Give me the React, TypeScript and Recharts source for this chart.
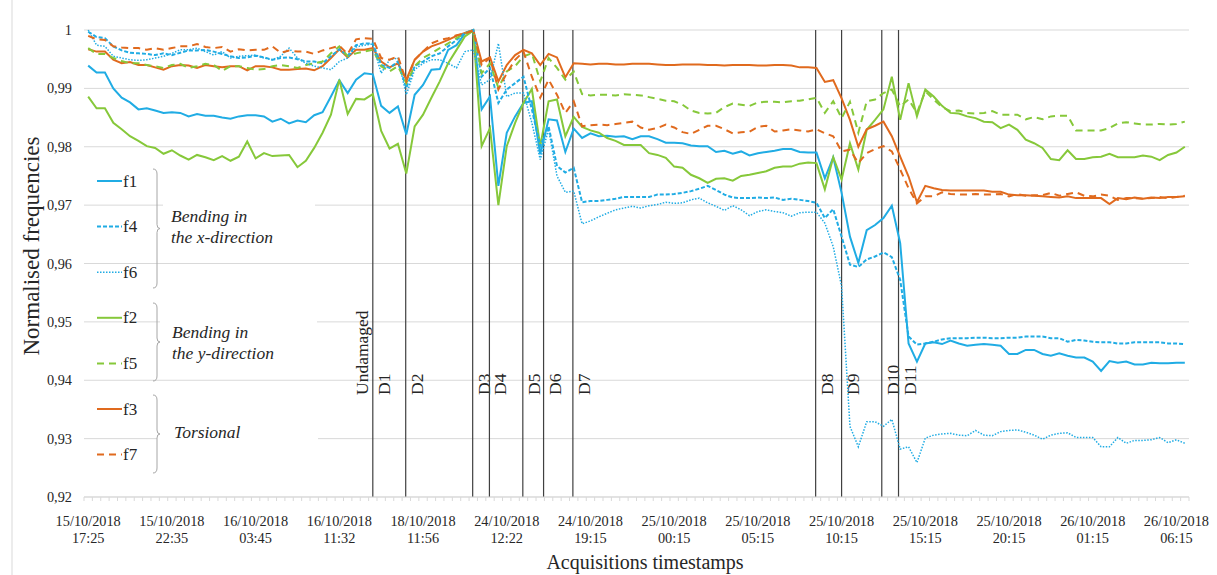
import React from "react";
import { LineChart, Line, XAxis, YAxis, CartesianGrid, ReferenceLine } from "recharts";

// x-axis labels, one every 10 acquisitions
const dateLabels = [
  "15/10/2018", "15/10/2018", "16/10/2018", "16/10/2018", "18/10/2018", "24/10/2018", "24/10/2018",
  "25/10/2018", "25/10/2018", "25/10/2018", "25/10/2018", "25/10/2018", "26/10/2018", "26/10/2018",
];
const timeLabels = [
  "17:25", "22:35", "03:45", "11:32", "11:56", "12:22", "19:15",
  "00:15", "05:15", "10:15", "15:15", "20:15", "01:15", "06:15",
];
const labelIndex = [0, 10, 20, 30, 40, 50, 60, 70, 80, 90, 100, 110, 120, 130];

const yTicks = [0.92, 0.93, 0.94, 0.95, 0.96, 0.97, 0.98, 0.99, 1];

// damage scenarios (position on the acquisition axis)
const damageAt = [34, 37.93, 45.93, 47.93, 51.92, 54.4, 57.9, 86.9, 90, 94.8, 96.8];
const damageNames = ["D1", "D2", "D3", "D4", "D5", "D6", "D7", "D8", "D9", "D10", "D11"];

// normalised frequencies
const f1 = [
  0.9939, 0.9927, 0.9927, 0.99, 0.9884, 0.9876, 0.9864, 0.9866, 0.9862, 0.9858,
  0.9859, 0.9858, 0.9852, 0.9856, 0.9853, 0.9853, 0.985, 0.9848, 0.9852, 0.9854,
  0.9854, 0.9852, 0.9843, 0.9848, 0.984, 0.9845, 0.9842, 0.9854, 0.9859, 0.9886,
  0.9914, 0.9892, 0.9915, 0.9926, 0.9924, 0.987, 0.9858, 0.9869, 0.9821, 0.9889,
  0.9906, 0.9932, 0.9933, 0.9966, 0.9974, 0.9994, 1.0, 0.9864, 0.9886, 0.9733,
  0.9824, 0.9852, 0.9875, 0.9878, 0.9787, 0.9847, 0.9845, 0.9791, 0.9831, 0.9815,
  0.9823, 0.9818, 0.9819, 0.9817, 0.9818, 0.9813, 0.9818, 0.9818, 0.9813, 0.9807,
  0.9807, 0.9806, 0.9802, 0.9801, 0.9801, 0.9791, 0.9793, 0.9788, 0.9792, 0.9785,
  0.9789, 0.9791, 0.9793, 0.9796, 0.9796, 0.9791, 0.979, 0.979, 0.9746, 0.9782,
  0.9721, 0.9646, 0.9601, 0.9657, 0.9666, 0.9678, 0.9699, 0.9635, 0.9463, 0.9432,
  0.9463, 0.9465, 0.9462, 0.9468, 0.9463, 0.9459, 0.9461, 0.9462, 0.9461, 0.9459,
  0.9445, 0.9445, 0.9452, 0.9452, 0.9445, 0.9442, 0.9446, 0.9442, 0.9439, 0.9439,
  0.9432, 0.9416, 0.9433, 0.943, 0.9432, 0.9427, 0.9427, 0.943, 0.9429, 0.9429,
  0.943, 0.943,
];
const f2 = [
  0.9886, 0.9866, 0.9866, 0.9841, 0.983, 0.9818, 0.981, 0.9801, 0.9798, 0.9788,
  0.9794, 0.9785, 0.9778, 0.9786, 0.9782, 0.9777, 0.9784, 0.9776, 0.9783, 0.9809,
  0.978, 0.9789, 0.9784, 0.9785, 0.9786, 0.9765, 0.9776, 0.9798, 0.9824, 0.9855,
  0.9915, 0.9856, 0.9882, 0.9881, 0.989, 0.9827, 0.9797, 0.9805, 0.9754, 0.9835,
  0.9855, 0.9884, 0.9912, 0.9943, 0.9966, 0.9989, 0.9999, 0.9801, 0.9832, 0.97,
  0.9801, 0.9841, 0.9875, 0.9899, 0.9801, 0.9878, 0.9881, 0.9818, 0.9851, 0.9834,
  0.9828, 0.9824, 0.9815, 0.981, 0.9803, 0.9803, 0.9803, 0.9789, 0.9786, 0.9781,
  0.9766, 0.9764, 0.9752, 0.9746, 0.9738, 0.9745, 0.9746, 0.9742, 0.975, 0.9752,
  0.9755, 0.9758, 0.9764, 0.9766, 0.9766, 0.9771, 0.9773, 0.9772, 0.9727, 0.9782,
  0.9744, 0.9806, 0.9761, 0.9829, 0.9846, 0.9864, 0.992, 0.9846, 0.9909, 0.9852,
  0.9898, 0.9886, 0.987, 0.9858, 0.9857, 0.9852, 0.9849, 0.9843, 0.9842, 0.9832,
  0.9838, 0.9829, 0.9812, 0.9806, 0.9798, 0.9779, 0.9777, 0.9794, 0.9779, 0.9779,
  0.9782, 0.9783, 0.9788, 0.9782, 0.9782, 0.9782, 0.9785, 0.9783, 0.9777, 0.9786,
  0.979, 0.98,
];
const f3 = [
  0.9967, 0.9963, 0.9963, 0.9949, 0.9943, 0.9945, 0.994, 0.994, 0.9936, 0.9932,
  0.9938, 0.994, 0.9939, 0.9935, 0.994, 0.9938, 0.9936, 0.9938, 0.9938, 0.9931,
  0.9938, 0.9938, 0.9936, 0.9932, 0.9932, 0.9933, 0.9934, 0.9931, 0.9938, 0.9952,
  0.9967, 0.9953, 0.9966, 0.9966, 0.9969, 0.9946, 0.9936, 0.9943, 0.9915, 0.9949,
  0.9963, 0.9972, 0.9977, 0.9983, 0.999, 0.9995, 1.0, 0.9946, 0.9953, 0.9912,
  0.994, 0.9957, 0.9966, 0.996, 0.994, 0.9959, 0.9953, 0.9919, 0.9943, 0.9942,
  0.9941, 0.9942, 0.9942, 0.9941, 0.9941, 0.9942, 0.9942, 0.9942, 0.9941, 0.994,
  0.994, 0.9941, 0.9941, 0.9941, 0.994, 0.994, 0.9939, 0.994, 0.994, 0.994,
  0.9939, 0.9939, 0.994, 0.994, 0.9939, 0.9936, 0.9936, 0.9935, 0.9911, 0.9914,
  0.9883, 0.9846, 0.98, 0.983, 0.9836, 0.9843, 0.9818, 0.9783, 0.9749, 0.9705,
  0.9733, 0.9729, 0.9726, 0.9725, 0.9725, 0.9725, 0.9725, 0.9725, 0.9723, 0.9723,
  0.9718, 0.9717, 0.9717, 0.9716, 0.9715, 0.9714, 0.9713, 0.9715, 0.9712, 0.9712,
  0.9712, 0.9712, 0.9702, 0.9712, 0.971, 0.9713, 0.9711, 0.9713, 0.9712, 0.9714,
  0.9714, 0.9715,
];
const f4 = [
  0.9997, 0.9988, 0.9986, 0.9972, 0.9965, 0.9961, 0.996, 0.9959, 0.9957, 0.996,
  0.9957, 0.9961, 0.9965, 0.9965, 0.9966, 0.9963, 0.9959, 0.9955, 0.9952, 0.9953,
  0.9956, 0.9953, 0.9949, 0.9952, 0.9953, 0.995, 0.9946, 0.9946, 0.9943, 0.9955,
  0.9967, 0.9956, 0.9974, 0.9977, 0.9977, 0.994, 0.9935, 0.9946, 0.9901, 0.9938,
  0.9946, 0.9955, 0.996, 0.9972, 0.9983, 0.9995, 1.0, 0.992, 0.9935, 0.9875,
  0.9898, 0.9909, 0.992, 0.9864, 0.9801, 0.9835, 0.9767, 0.9756, 0.9764, 0.9705,
  0.9707, 0.9707, 0.9709, 0.9711, 0.9714, 0.9714, 0.9714, 0.9714, 0.9718, 0.9718,
  0.9719, 0.9721, 0.9724, 0.9728, 0.9733, 0.9726, 0.9718, 0.9713, 0.9712, 0.9712,
  0.9713, 0.9712, 0.9713, 0.9709, 0.9711, 0.9709, 0.9707, 0.9704, 0.9678, 0.9693,
  0.9646, 0.9598, 0.9594, 0.9607, 0.9612, 0.9619, 0.9611, 0.9572, 0.9475, 0.9461,
  0.9463, 0.9466, 0.947, 0.9472, 0.9472, 0.9472, 0.9473, 0.9473, 0.9472, 0.9472,
  0.9473, 0.9473, 0.9475, 0.9475, 0.9475, 0.9472, 0.9472, 0.9466, 0.9469, 0.9468,
  0.9466, 0.9465, 0.9465, 0.9463, 0.9463, 0.9465, 0.9465, 0.9465, 0.9465, 0.9463,
  0.9463, 0.9462,
];
const f5 = [
  0.9969, 0.9959, 0.9959, 0.9952, 0.9947, 0.9943, 0.9943, 0.994, 0.9938, 0.9935,
  0.994, 0.9942, 0.9935, 0.9938, 0.9942, 0.994, 0.993, 0.9938, 0.9938, 0.9935,
  0.9932, 0.9933, 0.9938, 0.994, 0.9938, 0.9935, 0.994, 0.9943, 0.9946, 0.996,
  0.9972, 0.9955, 0.996, 0.9963, 0.9966, 0.9938, 0.9929, 0.9938, 0.9909, 0.9938,
  0.9952, 0.996, 0.9969, 0.9977, 0.9986, 0.9994, 0.9999, 0.9926, 0.9943, 0.9901,
  0.9929, 0.9938, 0.9955, 0.996, 0.9912, 0.9952, 0.9935, 0.9915, 0.9929, 0.989,
  0.9888, 0.9889, 0.9889, 0.9888, 0.989, 0.9889, 0.9888, 0.9885, 0.9882, 0.9879,
  0.9878, 0.9872, 0.9862, 0.9858, 0.9857, 0.9858, 0.9868, 0.9874, 0.9872, 0.987,
  0.9876, 0.9877, 0.9877, 0.9876, 0.9878, 0.9879, 0.9881, 0.9884, 0.9858, 0.9878,
  0.9849, 0.9877, 0.9824, 0.9878, 0.9881, 0.9892, 0.9898, 0.9869, 0.9881, 0.9858,
  0.9895, 0.9881, 0.9868, 0.9861, 0.9862, 0.9858, 0.9857, 0.9858, 0.9861, 0.9855,
  0.9855, 0.9855, 0.9847, 0.9851, 0.9847, 0.9852, 0.9853, 0.9853, 0.9828, 0.9828,
  0.9828, 0.9828, 0.9832, 0.984, 0.9842, 0.984, 0.9838, 0.9838, 0.9839, 0.9838,
  0.9839, 0.9843,
];
const f6 = [
  1.0, 0.9974, 0.9972, 0.9955, 0.9952, 0.9949, 0.9948, 0.9949, 0.9952, 0.9955,
  0.996, 0.9966, 0.9966, 0.9969, 0.9963, 0.9957, 0.9963, 0.9952, 0.9955, 0.9956,
  0.9957, 0.9952, 0.9949, 0.9955, 0.9969, 0.9952, 0.9943, 0.9938, 0.9935, 0.9932,
  0.9946, 0.9952, 0.9971, 0.9974, 0.9976, 0.9926, 0.9949, 0.9952, 0.9889, 0.9932,
  0.9943, 0.9949, 0.9949, 0.9943, 0.9935, 0.9963, 0.9966, 0.9906, 0.9915, 0.9977,
  0.9886, 0.9892, 0.9892, 0.9841, 0.9778, 0.983, 0.975, 0.9722, 0.9724, 0.9668,
  0.9673, 0.968, 0.9686, 0.9692, 0.9695, 0.9698, 0.9695, 0.9699, 0.9701, 0.9705,
  0.9703, 0.9704, 0.9709, 0.9712, 0.9704, 0.9698, 0.9691, 0.9699, 0.9692, 0.9682,
  0.9689, 0.9692, 0.9689, 0.9687, 0.9681, 0.9687, 0.9688, 0.9688, 0.9669, 0.9629,
  0.9561, 0.9321, 0.9286, 0.9329, 0.9329, 0.9321, 0.9333, 0.9282, 0.9286, 0.9259,
  0.9301, 0.9306, 0.9308, 0.9309, 0.9306, 0.9305, 0.9314, 0.9306, 0.9305, 0.9312,
  0.9314, 0.9315, 0.9311, 0.9306, 0.9299, 0.9306, 0.9309, 0.931, 0.9302, 0.9302,
  0.9302, 0.9286, 0.9286, 0.9302, 0.9292, 0.9297, 0.9297, 0.9298, 0.9302, 0.9293,
  0.9298, 0.9292,
];
const f7 = [
  0.999, 0.9984, 0.9983, 0.9972, 0.997, 0.9969, 0.9969, 0.9966, 0.9969, 0.9966,
  0.9969, 0.9972, 0.9972, 0.9976, 0.9971, 0.9969, 0.9971, 0.9963, 0.9967, 0.9965,
  0.9966, 0.9966, 0.9972, 0.9961, 0.9965, 0.9963, 0.9963, 0.9959, 0.9965, 0.9969,
  0.9973, 0.9959, 0.9984, 0.9986, 0.9985, 0.9952, 0.9949, 0.9955, 0.9912, 0.9949,
  0.9963, 0.9977, 0.9983, 0.9986, 0.9991, 0.9994, 0.9999, 0.994, 0.9952, 0.9898,
  0.9926, 0.9949, 0.9963, 0.992, 0.9884, 0.9915, 0.9889, 0.9858, 0.9878, 0.9835,
  0.9837, 0.9838, 0.9837, 0.9839, 0.9841, 0.9843, 0.9833, 0.9829, 0.9832, 0.9838,
  0.9833, 0.9825, 0.9822, 0.9829, 0.9836, 0.9836, 0.983, 0.9823, 0.9825, 0.9826,
  0.9834, 0.9836, 0.9826, 0.9828, 0.983, 0.9828, 0.9826, 0.983, 0.9823, 0.9818,
  0.9792, 0.9795, 0.9772, 0.9789, 0.9796, 0.9801, 0.9792, 0.9761, 0.9729, 0.9703,
  0.9715, 0.9715, 0.9722, 0.9719, 0.9718, 0.9718, 0.9719, 0.9718, 0.9718, 0.9719,
  0.9715, 0.9719, 0.9716, 0.9717, 0.9717, 0.9721, 0.9716, 0.9719, 0.9722, 0.9716,
  0.9715, 0.9718, 0.9716, 0.9709, 0.9712, 0.9712, 0.9711, 0.9712, 0.9714, 0.9712,
  0.9714, 0.9716,
];

const BLUE = "#20ACE4";
const GREEN = "#86C83A";
const ORANGE = "#E06A1E";
const TEXT = "#262626";
const GRID = "#D9D9D9";
const serif = "'Liberation Serif', 'DejaVu Serif', 'Times New Roman', Times, serif";
const txt = { fontFamily: serif };

const series = [
  { key: "f1", color: BLUE, dash: undefined, width: 2 },
  { key: "f2", color: GREEN, dash: undefined, width: 2 },
  { key: "f3", color: ORANGE, dash: undefined, width: 2 },
  { key: "f4", color: BLUE, dash: "4 2", width: 2 },
  { key: "f5", color: GREEN, dash: "7 5", width: 2 },
  { key: "f6", color: BLUE, dash: "1.5 1.5", width: 1.5 },
  { key: "f7", color: ORANGE, dash: "7 5", width: 2 },
];

const data = f1.map((v, i) => ({
  i,
  f1: v,
  f2: f2[i],
  f3: f3[i],
  f4: f4[i],
  f5: f5[i],
  f6: f6[i],
  f7: f7[i],
}));

// tick marks between acquisitions plus the labelled ones
const boundaries = Array.from({ length: data.length + 1 }, (_, k) => k - 0.5);
const xTicks = [...boundaries, ...labelIndex].sort((a, b) => a - b);

function XTick(props: any) {
  const { x, y, payload } = props;
  const k = labelIndex.indexOf(payload.value);
  if (k < 0) {
    return <line x1={x} x2={x} y1={y} y2={y + 4} stroke={GRID} />;
  }
  return (
    <text x={x} y={y + 29} textAnchor="middle" fill={TEXT} style={txt} fontSize={14.3}>
      <tspan x={x}>{dateLabels[k]}</tspan>
      <tspan x={x} dy={17}>{timeLabels[k]}</tspan>
    </text>
  );
}

function DamageLabel(props: any) {
  const { viewBox, text, side } = props;
  const x = (viewBox?.x ?? 0) + side * 11;
  const y = 395;
  return (
    <text
      x={x}
      y={y}
      transform={`rotate(-90 ${x} ${y})`}
      dominantBaseline="central"
      fill={TEXT}
      style={txt}
      fontSize={17.5}
    >
      {text}
    </text>
  );
}

function brace(x: number, y1: number, y2: number) {
  const m = (y1 + y2) / 2;
  return `M ${x - 4} ${y1} Q ${x} ${y1} ${x} ${y1 + 5} L ${x} ${m - 4} Q ${x} ${m} ${x + 3} ${m} Q ${x} ${m} ${x} ${m + 4} L ${x} ${y2 - 5} Q ${x} ${y2} ${x - 4} ${y2}`;
}

const legendOrder = ["f1", "f4", "f6", "f2", "f5", "f3", "f7"];

function Overlay() {
  return (
    <svg width={1217} height={575} style={{ position: "absolute", left: 0, top: 0, pointerEvents: "none" }}>
      <line x1={12} x2={12} y1={0} y2={575} stroke={GRID} />

      {/* group boxes hide the gridlines under the italic labels */}
      <rect x={163} y={196} width={152} height={54} fill="#fff" />
      <rect x={160} y={312} width={157} height={52} fill="#fff" />
      <rect x={157} y={421} width={161} height={26} fill="#fff" />

      {legendOrder.map((key, k) => {
        const s = series.find((d) => d.key === key)!;
        const y = 181 + k * 45.6;
        return (
          <g key={key}>
            <line x1={97} x2={122} y1={y} y2={y} stroke={s.color} strokeWidth={s.width} strokeDasharray={s.dash} />
            <text x={123} y={y} dominantBaseline="central" fill={TEXT} style={txt} fontSize={17}>
              {key}
            </text>
          </g>
        );
      })}

      <path d={brace(157, 169, 288)} fill="none" stroke="#A6A6A6" />
      <path d={brace(157, 303, 381)} fill="none" stroke="#A6A6A6" />
      <path d={brace(157, 395, 473)} fill="none" stroke="#A6A6A6" />

      <g fill={TEXT} style={{ ...txt, fontStyle: "italic" }} fontSize={17.5}>
        <text x={171} y={222}>Bending in</text>
        <text x={171} y={243}>the x-direction</text>
        <text x={172} y={338}>Bending in</text>
        <text x={172} y={359}>the y-direction</text>
        <text x={174} y={438}>Torsional</text>
      </g>

      <text
        x={31}
        y={246}
        transform="rotate(-90 31 246)"
        textAnchor="middle"
        dominantBaseline="central"
        fill={TEXT}
        style={txt}
        fontSize={23}
      >
        Normalised frequencies
      </text>
      <text x={645} y={569} textAnchor="middle" fill={TEXT} style={txt} fontSize={20}>
        Acquisitions timestamps
      </text>
    </svg>
  );
}

export default function App() {
  return (
    <div style={{ position: "absolute", left: 0, top: 0, width: 1217, height: 575, background: "#fff", fontFamily: serif }}>
      <LineChart width={1217} height={575} data={data} margin={{ top: 30, right: 28, bottom: 18, left: 24 }}>
        <CartesianGrid vertical={false} stroke={GRID} />
        <XAxis
          dataKey="i"
          type="number"
          domain={[-0.5, data.length - 0.5]}
          ticks={xTicks}
          interval={0}
          height={60}
          tickSize={0}
          tickMargin={0}
          tickLine={false}
          axisLine={{ stroke: GRID }}
          tick={<XTick />}
        />
        <YAxis
          type="number"
          domain={[0.92, 1]}
          ticks={yTicks}
          width={60}
          tickSize={0}
          tickMargin={12}
          tickLine={false}
          axisLine={false}
          tick={{ fill: TEXT, fontSize: 14.3, style: txt }}
          tickFormatter={(v: number) => (v === 1 ? "1" : v.toFixed(2).replace(".", ","))}
        />
        {damageAt.map((at, k) => (
          <ReferenceLine
            key={damageNames[k]}
            x={at}
            stroke="#404040"
            strokeWidth={1.2}
            label={<DamageLabel text={damageNames[k]} side={1} />}
          />
        ))}
        <ReferenceLine x={damageAt[0]} stroke="none" label={<DamageLabel text="Undamaged" side={-1} />} />
        {series.map((s) => (
          <Line
            key={s.key}
            dataKey={s.key}
            type="linear"
            stroke={s.color}
            strokeWidth={s.width}
            strokeDasharray={s.dash}
            dot={false}
            activeDot={false}
            isAnimationActive={false}
          />
        ))}
      </LineChart>
      <Overlay />
    </div>
  );
}
